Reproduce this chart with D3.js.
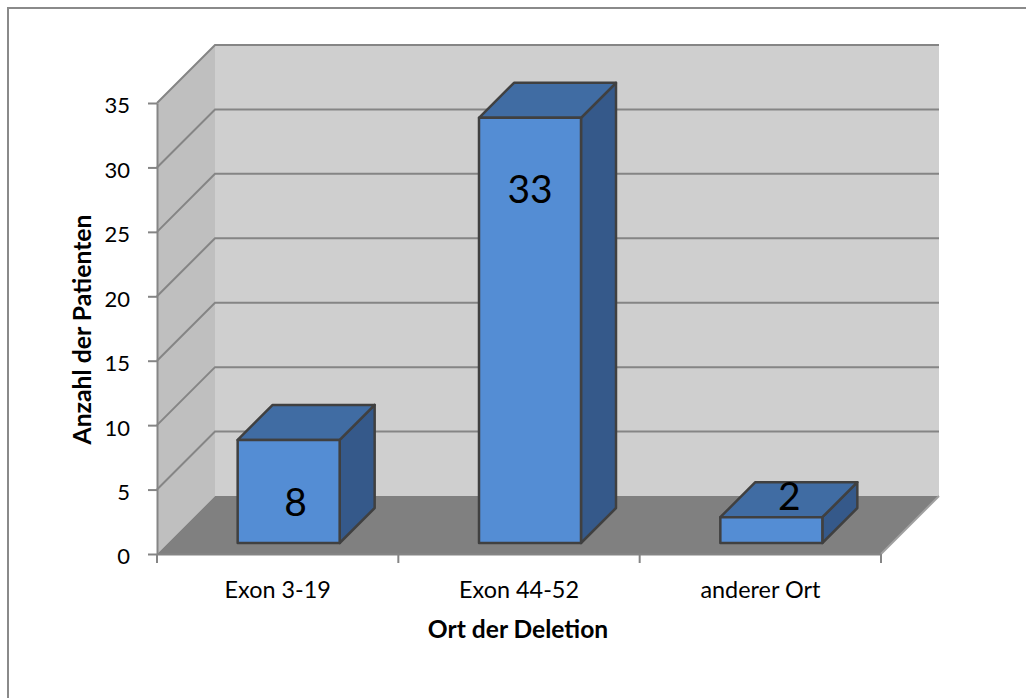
<!DOCTYPE html>
<html>
<head lang="en">
    <meta charset="UTF-8">
    <title></title>
    <script src="https://cdn.jsdelivr.net/npm/d3@7/dist/d3.min.js"></script>
    <style>
        html,body{margin:0;padding:0;background:#fff;}
        svg{display:block;}
        text{font-family:Lato,"Open Sans",sans-serif;fill:#000;}
    </style>
</head>
<body>
<div id="tu1"></div>
<script>
    var xdata=['Exon 3-19','Exon 44-52','anderer Ort'];
    var ydata=[8,33,2];
    var yticks=[0,5,10,15,20,25,30,35];
    var xtitle='Ort der Deletion';
    var ytitle='Anzahl der Patienten';

    var svg=d3.select('#tu1').append('svg').attr('width',1026).attr('height',698);

    // chart frame, only top and left show in the picture
    svg.append('path').attr('d','M8,698V8H1026').attr('fill','none').attr('stroke','#8a8a8a').attr('stroke-width',2);

    var x=d3.scaleBand().domain(xdata).range([157,881]);
    var y=d3.scaleLinear().domain([0,35]).range([554,103]);
    var wall=58;    // depth of the box
    var barDepth=35, barOffset=11, barWidth=102;

    var line='#858585';
    // side wall, back wall, floor
    svg.append('path').attr('fill','#bfbfbf')
        .attr('d',d3.line()([[x.range()[0],y(0)],[x.range()[0],y(35)],[x.range()[0]+wall,y(35)-wall],[x.range()[0]+wall,y(0)-wall]]));
    svg.append('rect').attr('fill','#cfcfcf')
        .attr('x',x.range()[0]+wall).attr('y',y(35)-wall)
        .attr('width',x.range()[1]-x.range()[0]).attr('height',y(0)-y(35));
    svg.append('path').attr('fill','#808080')
        .attr('d',d3.line()([[x.range()[0],y(0)],[x.range()[1],y(0)],[x.range()[1]+wall,y(0)-wall],[x.range()[0]+wall,y(0)-wall]])+'Z');

    // gridlines on the side and back walls
    var grid=svg.append('g').attr('fill','none').attr('stroke',line).attr('stroke-width',2);
    yticks.filter(function(d){return d>0;}).forEach(function(d){
        grid.append('path').attr('d',d3.line()([[x.range()[0],y(d)],[x.range()[0]+wall,y(d)-wall],[x.range()[1]+wall,y(d)-wall]]));
    });
    grid.append('path').attr('d',d3.line()([[x.range()[1],y(0)],[x.range()[1]+wall,y(0)-wall]])).attr('stroke','#a0a0a0');

    // axes
    var yaxis=d3.axisLeft(y).tickValues(yticks).tickSize(9).tickPadding(18).tickSizeOuter(0);
    var gy=svg.append('g').attr('transform','translate(157,0)').call(yaxis);
    var xaxis=d3.axisBottom(x).tickSize(0).tickPadding(27);
    var gx=svg.append('g').attr('transform','translate(0,554)').call(xaxis);
    var edges=xdata.map(function(d){return x(d);}).concat([x.range()[1]]);
    gx.selectAll('line.edge').data(edges).enter().append('line').attr('class','edge')
        .attr('x1',function(d){return d;}).attr('x2',function(d){return d;})
        .attr('y1',0).attr('y2',9);
    svg.selectAll('.domain,.tick line,line.edge').attr('stroke',line).attr('stroke-width',2);
    gy.selectAll('.tick text').style('font-size','22px').attr('dy','0.45em').attr('fill','#000');
    gx.selectAll('.tick text').style('font-size','23.4px').attr('fill','#000');
    svg.selectAll('.tick text').style('font-family','Lato,"Open Sans",sans-serif');

    // bars
    var fy=y(0)-barOffset;
    var bars=svg.selectAll('g.bar').data(xdata).enter().append('g').attr('class','bar')
        .attr('stroke','#404040').attr('stroke-width',2.5).attr('stroke-linejoin','round');
    function left(d){return x(d)+x.bandwidth()/2+barOffset-barWidth/2;}
    function top1(d,i){return y(ydata[i])-barOffset;}
    bars.append('path').attr('fill','#35598a').attr('d',function(d,i){
        var l=left(d)+barWidth,t=top1(d,i);
        return d3.line()([[l,t],[l+barDepth,t-barDepth],[l+barDepth,fy-barDepth],[l,fy]])+'Z';
    });
    bars.append('path').attr('fill','#406ca3').attr('d',function(d,i){
        var l=left(d),t=top1(d,i);
        return d3.line()([[l,t],[l+barDepth,t-barDepth],[l+barWidth+barDepth,t-barDepth],[l+barWidth,t]])+'Z';
    });
    bars.append('rect').attr('fill','#548dd4')
        .attr('x',left).attr('y',top1)
        .attr('width',barWidth).attr('height',function(d,i){return fy-top1(d,i);});

    // value labels were placed by hand in the original, so each has its own nudge
    var labelDx=[7,0,18], labelDy=[76,85,-7];
    svg.selectAll('text.val').data(xdata).enter().append('text').attr('class','val')
        .attr('x',function(d,i){return left(d)+barWidth/2+labelDx[i];})
        .attr('y',function(d,i){return top1(d,i)+labelDy[i];})
        .attr('text-anchor','middle').style('font-size','39px')
        .text(function(d,i){return ydata[i];});

    // axis titles
    svg.append('text').attr('x',518).attr('y',638).attr('text-anchor','middle')
        .style('font-size','24.6px').style('font-weight','bold').text(xtitle);
    svg.append('text').attr('transform','translate(90.5,329.5) rotate(-90)').attr('text-anchor','middle')
        .style('font-size','24.8px').style('font-weight','bold').text(ytitle);
</script>
</body>
</html>
